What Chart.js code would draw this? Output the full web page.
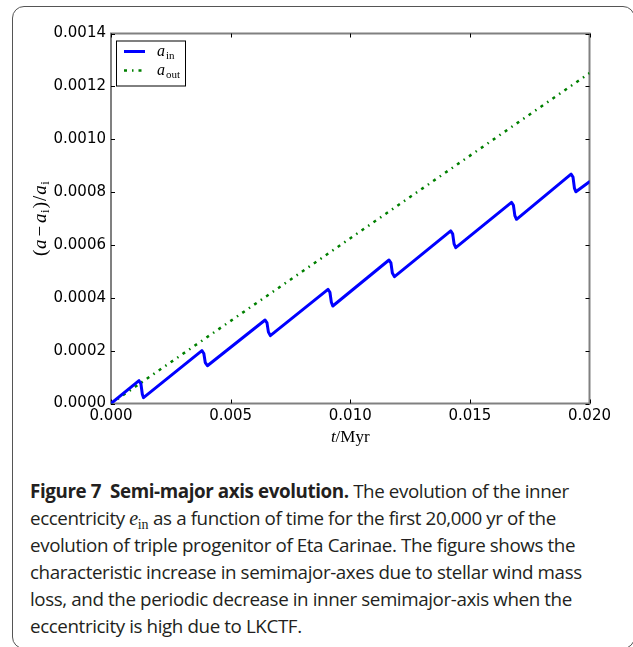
<!DOCTYPE html>
<html>
<head>
<meta charset="utf-8">
<script src="https://cdn.jsdelivr.net/npm/chart.js@4.4.1/dist/chart.umd.min.js"></script>
<style>
  html, body { margin: 0; padding: 0; background: #fff; }
  body { width: 633px; height: 647px; position: relative; overflow: hidden; }
  #frame { position: absolute; left: 12px; top: 6px; width: 623px; height: 643px;
           border: 1.5px solid #555; border-radius: 12px; box-sizing: border-box; }
  #wrap { position: absolute; left: 0; top: 0; width: 633px; height: 460px; }
  #caption { position: absolute; left: 30px; top: 478px; width: 600px; white-space: nowrap;
             font-family: "Open Sans", sans-serif; font-size: 18.8px; line-height: 27px;
             color: #231f20; letter-spacing: -0.4px; }
  #caption b { font-weight: 700; }
  #caption .e { font-family: "Liberation Serif", serif; font-style: italic; font-size: 20px; }
  #caption .s { font-family: "Liberation Serif", serif; font-size: 14px; position: relative; top: 4px; line-height: 0; letter-spacing: 0; }
</style>
</head>
<body>
<div id="frame"></div>
<div id="wrap"><canvas id="c" width="633" height="460"></canvas></div>
<div id="caption"><b>Figure 7&nbsp; Semi-major axis evolution.</b> The evolution of the inner<br>eccentricity <span class="e">e</span><span class="s">in</span> as a function of time for the first 20,000 yr of the<br>evolution of triple progenitor of Eta Carinae. The figure shows the<br>characteristic increase in semimajor-axes due to stellar wind mass<br>loss, and the periodic decrease in inner semimajor-axis when the<br>eccentricity is high due to LKCTF.</div>
<script>
// ---- data ----
const seriesLabels = ["in", "out"];
const tInner = [0, 0.00117, 0.00125, 0.00131, 0.00136,
  0.0038, 0.00388, 0.00394, 0.00403,
  0.00644, 0.00652, 0.00658, 0.00666,
  0.00907, 0.00915, 0.00921, 0.00927,
  0.01162, 0.0117, 0.01176, 0.01185,
  0.0142, 0.01428, 0.01434, 0.01441,
  0.01674, 0.01682, 0.01688, 0.01695,
  0.01923, 0.01931, 0.01937, 0.01943,
  0.02];
const aInner = [0, 0.0000863, 0.000075, 0.000035, 0.000022,
  0.0002, 0.000189, 0.000155, 0.000143,
  0.000316, 0.000305, 0.00027, 0.000257,
  0.000432, 0.000421, 0.000383, 0.000369,
  0.000543, 0.000532, 0.000494, 0.00048,
  0.000653, 0.000642, 0.000604, 0.00059,
  0.000761, 0.00075, 0.000711, 0.000697,
  0.000868, 0.000857, 0.000815, 0.000801,
  0.000839];
const tOuter = [0, 0.02];
const aOuter = [0, 0.00125];
const xTicks = [0, 0.005, 0.010, 0.015, 0.020];
const yTicks = [0, 0.0002, 0.0004, 0.0006, 0.0008, 0.0010, 0.0012, 0.0014];

const toPts = (xs, ys) => xs.map((x, i) => ({x, y: ys[i]}));

const deco = {
  id: 'deco',
  beforeDatasetsDraw(chart) {
    const {ctx, chartArea: a, scales: {x, y}} = chart;
    ctx.save();
    ctx.strokeStyle = '#808080';
    ctx.lineWidth = 2;
    ctx.strokeRect(a.left, a.top, a.right - a.left, a.bottom - a.top);
    ctx.strokeStyle = '#000';
    ctx.lineWidth = 1;
    ctx.beginPath();
    x.ticks.forEach(t => {
      const p = Math.round(x.getPixelForValue(t.value)) + 0.5;
      ctx.moveTo(p, a.bottom); ctx.lineTo(p, a.bottom - 4);
      ctx.moveTo(p, a.top); ctx.lineTo(p, a.top + 4);
    });
    y.ticks.forEach(t => {
      const p = Math.round(y.getPixelForValue(t.value)) + 0.5;
      ctx.moveTo(a.left, p); ctx.lineTo(a.left + 4, p);
      ctx.moveTo(a.right, p); ctx.lineTo(a.right - 4, p);
    });
    ctx.stroke();
    ctx.restore();
  },
  afterDatasetsDraw(chart) {
    const {ctx, chartArea: a} = chart;
    ctx.save();
    const drawRich = (parts, x0, yBase, align) => {
      let w = 0;
      parts.forEach(p => { ctx.font = p.f; w += ctx.measureText(p.t).width + (p.sp || 0) + (p.pre || 0); });
      let xx = align === 'center' ? x0 - w / 2 : x0;
      ctx.textBaseline = 'alphabetic';
      ctx.textAlign = 'left';
      parts.forEach(p => {
        ctx.font = p.f;
        xx += (p.pre || 0);
        ctx.fillText(p.t, xx, yBase + (p.dy || 0));
        xx += ctx.measureText(p.t).width + (p.sp || 0);
      });
    };
    const it = 'italic 16px "Liberation Serif", serif';
    const sub = '11px "Liberation Serif", serif';
    // legend
    const lx = a.left + 5, ly = a.top + 7;
    ctx.fillStyle = '#fff';
    ctx.fillRect(lx, ly, 69, 45);
    ctx.strokeStyle = '#000';
    ctx.lineWidth = 1;
    ctx.strokeRect(lx + 0.5, ly + 0.5, 69, 45);
    const ds = chart.data.datasets;
    [0, 1].forEach(i => {
      const yy = ly + 11 + i * 19;
      ctx.save();
      ctx.strokeStyle = ds[i].borderColor;
      ctx.lineWidth = ds[i].borderWidth;
      ctx.setLineDash(ds[i].borderDash || []);
      ctx.beginPath();
      ctx.moveTo(lx + 8, yy); ctx.lineTo(lx + 29, yy);
      ctx.stroke();
      ctx.restore();
      ctx.fillStyle = '#000';
      drawRich([{t: 'a', f: it, sp: 1}, {t: seriesLabels[i], f: sub, dy: 3}], lx + 41, yy + 4, 'left');
    });
    // x title
    ctx.fillStyle = '#000';
    drawRich([{t: 't', f: 'italic 17px "Liberation Serif", serif'}, {t: '/Myr', f: '17px "Liberation Serif", serif'}],
             (a.left + a.right) / 2, a.bottom + 38, 'center');
    // y title
    const it2 = 'italic 19px "Liberation Serif", serif';
    const rm2 = '19px "Liberation Serif", serif';
    const sub2 = '13px "Liberation Serif", serif';
    ctx.translate(46, (a.top + a.bottom) / 2);
    ctx.rotate(-Math.PI / 2);
    drawRich([{t: '(', f: rm2, sp: 0.5}, {t: 'a', f: it2, sp: 3}, {t: '\u2212', f: rm2, sp: 3}, {t: 'a', f: it2, sp: 0.5},
              {t: 'i', f: sub2, dy: 3, sp: 1}, {t: ')', f: rm2, sp: 1}, {t: '/', f: rm2, sp: 1}, {t: 'a', f: it2, sp: 0.5},
              {t: 'i', f: sub2, dy: 3}], 0, 0, 'center');
    ctx.restore();
  }
};

new Chart(document.getElementById('c'), {
  type: 'scatter',
  data: {
    datasets: [
      { label: 'a_in', data: toPts(tInner, aInner), showLine: true, borderColor: '#0000ff',
        borderWidth: 3, pointRadius: 0, tension: 0, borderJoinStyle: 'round', borderCapStyle: 'round', fill: false },
      { label: 'a_out', data: toPts(tOuter, aOuter), showLine: true, borderColor: '#008000',
        borderWidth: 2.5, borderDash: [3, 5, 1.5, 5], pointRadius: 0, fill: false }
    ]
  },
  options: {
    responsive: false,
    animation: false,
    layout: { padding: { left: 0, right: 43.5, top: 33.5, bottom: 0 } },
    plugins: { legend: { display: false }, tooltip: { enabled: false } },
    scales: {
      x: {
        type: 'linear', min: 0, max: 0.02,
        afterBuildTicks: s => { s.ticks = xTicks.map(v => ({value: v})); },
        afterFit: s => { s.height = 56.5; },
        grid: { display: false, drawTicks: false },
        border: { display: false },
        ticks: { color: '#000', padding: 4, maxRotation: 0, autoSkip: false,
                 font: { family: 'DejaVu Sans', size: 15 },
                 callback: v => v.toFixed(3) }
      },
      y: {
        type: 'linear', min: 0, max: 0.0014,
        afterBuildTicks: s => { s.ticks = yTicks.map(v => ({value: v})); },
        afterFit: s => { s.width = 111; },
        grid: { display: false, drawTicks: false },
        border: { display: false },
        ticks: { color: '#000', padding: 5, autoSkip: false,
                 font: { family: 'DejaVu Sans', size: 15 },
                 callback: v => v.toFixed(4) }
      }
    }
  },
  plugins: [deco]
});
</script>
</body>
</html>
